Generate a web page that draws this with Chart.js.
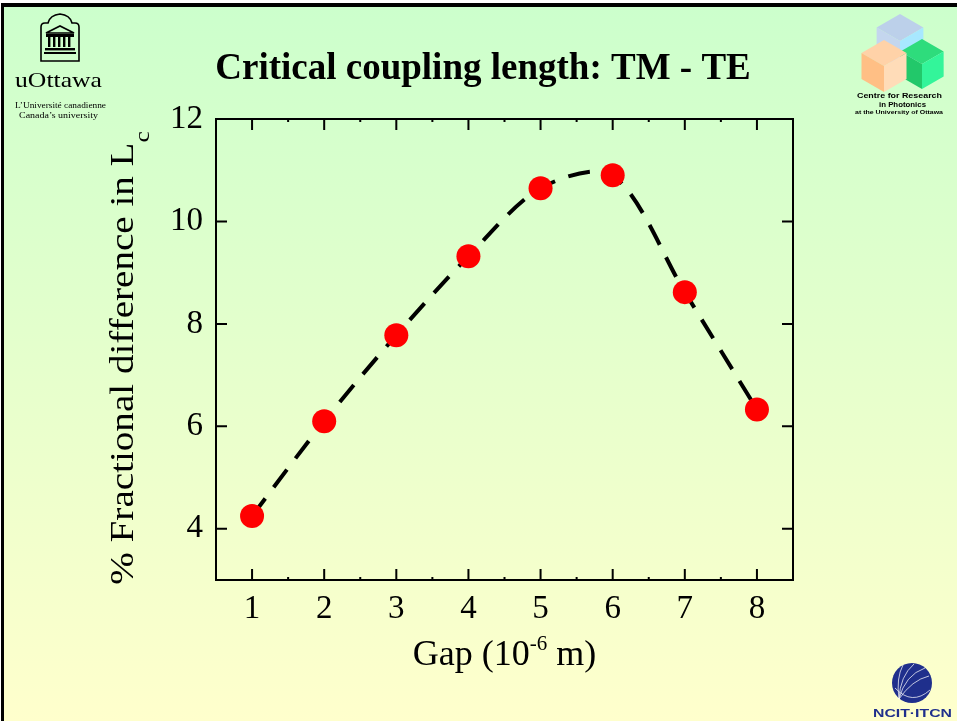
<!DOCTYPE html>
<html>
<head>
<meta charset="utf-8">
<script src="https://cdn.jsdelivr.net/npm/chart.js@4.4.1/dist/chart.umd.min.js"></script>
<style>
  html, body { margin: 0; padding: 0; background: #fff; }
  body { width: 957px; height: 721px; overflow: hidden; position: relative; }
  .slide {
    position: absolute; left: 1px; top: 3px; width: 956px; height: 718px;
    box-sizing: border-box;
    border-top: 4px solid #000; border-left: 3px solid #000;
    background: linear-gradient(#ccffcc, #ffffcc);
  }
  #chart { position: absolute; left: 0; top: 0; }
  #logos { position: absolute; left: 0; top: 0; pointer-events: none; }
</style>
</head>
<body>
<div class="slide"></div>
<canvas id="chart" width="957" height="721"></canvas>

<svg id="logos" width="957" height="721" viewBox="0 0 957 721">
  <!-- uOttawa -->
  <g fill="none" stroke="#000" stroke-width="1.6">
    <path d="M41,61 L41,27 Q41,23 45,23 L48,23 Q50,15 60,14 Q70,15 72,23 L75,23 Q79,23 79,27 L79,61 Z"/>
    <path d="M46,33 L60,26 L74,33 Z"/>
  </g>
  <g fill="#000">
    <rect x="46" y="34" width="28" height="3"/>
    <rect x="48" y="37" width="2.4" height="10"/>
    <rect x="53" y="37" width="2.4" height="10"/>
    <rect x="58" y="37" width="2.4" height="10"/>
    <rect x="63" y="37" width="2.4" height="10"/>
    <rect x="68" y="37" width="2.4" height="10"/>
    <rect x="45" y="48" width="30" height="2.4"/>
    <rect x="44" y="52" width="32" height="2"/>
  </g>
  <text x="15" y="87" font-family="Liberation Serif" font-size="21" textLength="87" lengthAdjust="spacingAndGlyphs">uOttawa</text>
  <text x="15" y="108" font-family="Liberation Serif" font-size="8" textLength="91" lengthAdjust="spacingAndGlyphs">L’Université canadienne</text>
  <text x="19" y="118" font-family="Liberation Serif" font-size="8" textLength="79" lengthAdjust="spacingAndGlyphs">Canada’s university</text>

  <!-- photonics cubes -->
  <g id="cubes"></g>
  <g font-family="Liberation Sans" font-weight="bold" fill="#000">
    <text x="857" y="98" font-size="8" textLength="85" lengthAdjust="spacingAndGlyphs">Centre for Research</text>
    <text x="879" y="107" font-size="8" textLength="47" lengthAdjust="spacingAndGlyphs">in Photonics</text>
    <text x="855" y="114" font-size="5" textLength="88" lengthAdjust="spacingAndGlyphs">at the University of Ottawa</text>
  </g>

  <!-- NCIT -->
  <circle cx="912" cy="683" r="20" fill="#1f2f8c"/>
  <g fill="none" stroke="#fff" stroke-width="0.8" opacity="0.9">
    <path d="M899,699 Q905,675 925,668"/>
    <path d="M899,699 Q912,680 929,676"/>
    <path d="M899,699 Q900,676 914,664"/>
    <path d="M899,699 Q896,678 903,665"/>
    <path d="M895,688 Q912,706 930,690"/>
  </g>
  <text x="873" y="717" font-family="Liberation Sans" font-weight="bold" font-size="11" fill="#1f2f8c" textLength="79" lengthAdjust="spacingAndGlyphs">NCIT·ITCN</text>
</svg>

<script>
// cubes of the photonics logo
function cube(cx, cy, s, top, left, right) {
  var h = s * 0.866;
  var p = function (a) { return a.map(function (q) { return q.join(','); }).join(' '); };
  return '<polygon fill="' + top + '" points="' + p([[cx, cy - s], [cx + h, cy - s / 2], [cx, cy], [cx - h, cy - s / 2]]) + '"/>' +
    '<polygon fill="' + left + '" points="' + p([[cx - h, cy - s / 2], [cx, cy], [cx, cy + s], [cx - h, cy + s / 2]]) + '"/>' +
    '<polygon fill="' + right + '" points="' + p([[cx, cy], [cx + h, cy - s / 2], [cx + h, cy + s / 2], [cx, cy + s]]) + '"/>';
}
document.getElementById('cubes').innerHTML =
  cube(900, 41, 27, '#bcd0ea', '#c4d6ee', '#a8e8ff') +
  cube(922, 64, 25, '#2edc7c', '#22c86a', '#33f59a') +
  cube(884, 66, 26, '#ffd2a8', '#ffbf85', '#ffdcb8');

// data
var gap = [1, 2, 3, 4, 5, 6, 7, 8];
var fracDiff = [4.25, 6.1, 7.78, 9.32, 10.65, 10.9, 8.62, 6.33];
var xTicks = [1, 2, 3, 4, 5, 6, 7, 8];
var yTicks = [4, 6, 8, 10, 12];

var points = gap.map(function (g, i) { return { x: g, y: fracDiff[i] }; });

var serif = "'Liberation Serif', 'Times New Roman', serif";

// draw text made of pieces (for sub/superscripts), centred on x
function drawRich(ctx, parts, x, y) {
  var total = 0;
  parts.forEach(function (p) {
    ctx.font = (p.bold ? 'bold ' : '') + p.size + 'px ' + serif;
    p.w = ctx.measureText(p.t).width;
    total += p.w;
  });
  var cx = x - total / 2;
  ctx.textAlign = 'left';
  ctx.textBaseline = 'alphabetic';
  parts.forEach(function (p) {
    ctx.font = (p.bold ? 'bold ' : '') + p.size + 'px ' + serif;
    ctx.fillText(p.t, cx, y + (p.dy || 0));
    cx += p.w;
  });
}

// frame, inward ticks, titles
var slideDecor = {
  id: 'slideDecor',
  beforeDatasetsDraw: function (chart) {
    var ctx = chart.ctx, a = chart.chartArea;
    var xs = chart.scales.x, ys = chart.scales.y;
    ctx.save();
    ctx.strokeStyle = '#000';
    ctx.lineWidth = 2;
    ctx.strokeRect(a.left, a.top, a.right - a.left, a.bottom - a.top);
    ctx.beginPath();
    xTicks.forEach(function (v) {
      var px = xs.getPixelForValue(v);
      ctx.moveTo(px, a.bottom); ctx.lineTo(px, a.bottom - 11);
      ctx.moveTo(px, a.top); ctx.lineTo(px, a.top + 11);
      var mx = xs.getPixelForValue(v + 0.5);
      if (v + 0.5 < xs.max) {
        ctx.moveTo(mx, a.bottom); ctx.lineTo(mx, a.bottom - 3);
        ctx.moveTo(mx, a.top); ctx.lineTo(mx, a.top + 3);
      }
    });
    yTicks.forEach(function (v) {
      var py = ys.getPixelForValue(v);
      ctx.moveTo(a.left, py); ctx.lineTo(a.left + 11, py);
      ctx.moveTo(a.right, py); ctx.lineTo(a.right - 11, py);
    });
    ctx.stroke();
    ctx.restore();
  },
  afterDraw: function (chart) {
    var ctx = chart.ctx, a = chart.chartArea;
    ctx.save();
    ctx.fillStyle = '#000';
    drawRich(ctx, [{ t: 'Critical coupling length: TM - TE', size: 37, bold: true }], 483, 79);
    drawRich(ctx, [
      { t: 'Gap (10', size: 36 },
      { t: '-6', size: 21, dy: -15 },
      { t: ' m)', size: 36 }
    ], (a.left + a.right) / 2, 665);
    ctx.translate(133, 358);
    ctx.rotate(-Math.PI / 2);
    ctx.scale(1.15, 1);
    drawRich(ctx, [
      { t: '% Fractional difference in L', size: 34 },
      { t: 'c', size: 22, dy: 16 }
    ], 0, 0);
    ctx.restore();
  }
};

var ctx = document.getElementById('chart').getContext('2d');
new Chart(ctx, {
  type: 'line',
  data: {
    datasets: [{
      label: 'points',
      data: points,
      showLine: false,
      pointRadius: 12,
      pointBackgroundColor: '#ff0000',
      pointBorderWidth: 0,
      pointBorderColor: '#ff0000'
    }, {
      label: 'fit',
      data: points,
      borderColor: '#000',
      borderWidth: 4,
      borderDash: [22, 14],
      tension: 0.3,
      pointRadius: 0,
      fill: false
    }]
  },
  options: {
    responsive: false,
    animation: false,
    devicePixelRatio: 1,
    layout: { padding: { top: 119, right: 164, left: 0, bottom: 0 } },
    plugins: { legend: { display: false }, tooltip: { enabled: false } },
    scales: {
      x: {
        type: 'linear',
        min: 0.5,
        max: 8.5,
        afterBuildTicks: function (s) { s.ticks = xTicks.map(function (v) { return { value: v }; }); },
        afterFit: function (s) { s.height = 141; },
        grid: { display: false, drawTicks: false },
        border: { display: false },
        ticks: { color: '#000', padding: 10, font: { family: serif, size: 33 } }
      },
      y: {
        min: 3,
        max: 12,
        afterBuildTicks: function (s) { s.ticks = yTicks.map(function (v) { return { value: v }; }); },
        afterFit: function (s) { s.width = 216; },
        grid: { display: false, drawTicks: false },
        border: { display: false },
        ticks: { color: '#000', padding: 13, font: { family: serif, size: 33 } }
      }
    }
  },
  plugins: [slideDecor]
});
</script>
</body>
</html>
